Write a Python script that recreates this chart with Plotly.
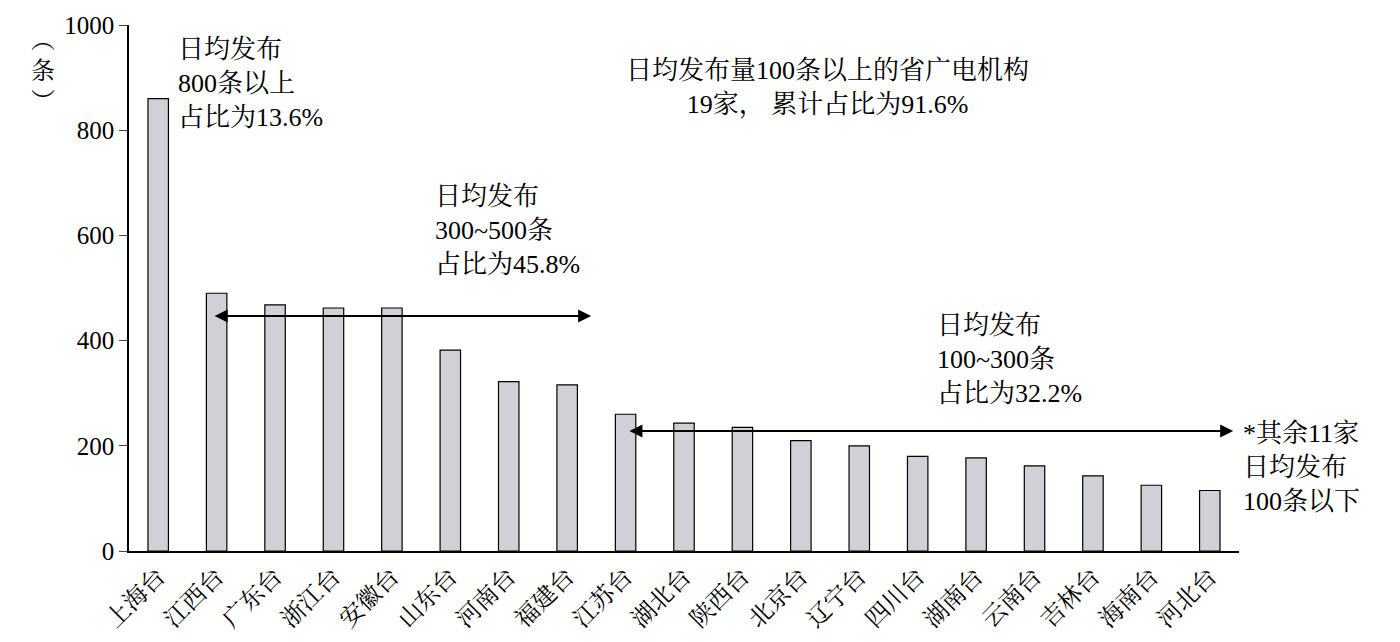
import plotly.graph_objects as go

stations = ["上海台", "江西台", "广东台", "浙江台", "安徽台", "山东台", "河南台", "福建台",
            "江苏台", "湖北台", "陕西台", "北京台", "辽宁台", "四川台", "湖南台", "云南台",
            "吉林台", "海南台", "河北台"]
daily_posts = [860, 490, 468, 462, 462, 382, 322, 316, 260, 243, 235, 210, 200, 180,
               177, 162, 143, 125, 115]
y_ticks = [0, 200, 400, 600, 800, 1000]

FONT = "Liberation Serif, Noto Serif CJK SC, Noto Sans CJK SC"
TXT = dict(family=FONT, size=26, color="black")

fig = go.Figure(go.Bar(
    x=list(range(len(stations))), y=daily_posts,
    width=0.35, marker=dict(color="#d0d1d6", line=dict(color="black", width=1.2)),
))

notes = [
    (0.3, 985, "日均发布<br>800条以上<br>占比为13.6%", "left"),
    (4.7, 705, "日均发布<br>300~500条<br>占比为45.8%", "left"),
    (13.3, 460, "日均发布<br>100~300条<br>占比为32.2%", "left"),
]
annotations = []
for x, y, text, align in notes:
    annotations.append(dict(
        x=x, y=y, text=text, showarrow=False, align=align,
        xanchor="left", yanchor="top", font=TXT,
    ))
annotations.append(dict(
    x=11.45, y=945, text="日均发布量100条以上的省广电机构<br>19家， 累计占比为91.6%",
    showarrow=False, align="center", xanchor="center", yanchor="top", font=TXT,
))
annotations.append(dict(
    xref="paper", x=1.002, y=255, text="*其余11家<br>日均发布<br>100条以下",
    showarrow=False, align="left", xanchor="left", yanchor="top", font=TXT,
))

# double-headed arrows
for x0, x1, y in [(0.94, 7.41, 447), (8.04, 18.4, 228)]:
    annotations.append(dict(
        x=x1, y=y, ax=x0, ay=y, axref="x", ayref="y", xref="x", yref="y",
        text="", showarrow=True, arrowhead=2, arrowside="end+start",
        arrowsize=1.3, arrowwidth=2, arrowcolor="black",
    ))

annotations.append(dict(
    xref="paper", yref="paper", x=-0.09, y=1.0, text="︵<br>条<br>︶",
    showarrow=False, yanchor="top", font=dict(family=FONT, size=24, color="black"),
))

fig.update_layout(
    width=1400, height=642, margin=dict(l=121, r=169, t=17, b=99),
    plot_bgcolor="white", paper_bgcolor="white", showlegend=False,
    font=dict(family=FONT, size=24, color="black"),
    annotations=annotations,
    xaxis=dict(
        tickmode="array", tickvals=list(range(len(stations))), ticktext=stations,
        tickangle=-45, range=[-0.5, 18.5], showline=True, linecolor="black",
        linewidth=1.5, ticks="", showgrid=False, tickfont=dict(family=FONT, size=24),
        automargin=False,
    ),
    yaxis=dict(
        range=[0, 1000], tickvals=y_ticks, showline=True, linecolor="black",
        linewidth=1.5, ticks="outside", ticklen=8, showgrid=False, zeroline=False,
        tickfont=dict(family=FONT, size=25), automargin=False,
    ),
)

fig.write_html("out.html")
